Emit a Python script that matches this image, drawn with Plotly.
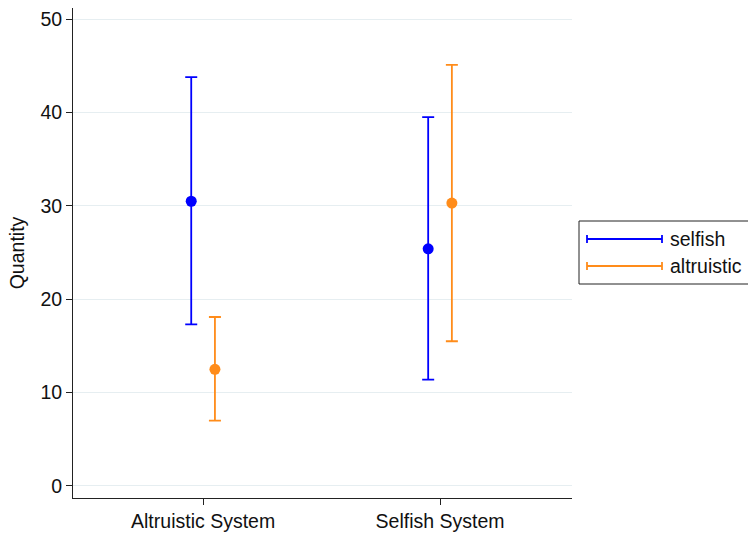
import plotly.graph_objects as go

# ---- data ----
categories = ["Altruistic System", "Selfish System"]
series_names = ["selfish", "altruistic"]
means = {
    "selfish": [30.5, 25.4],
    "altruistic": [12.5, 30.3],
}
upper = {
    "selfish": [43.8, 39.5],
    "altruistic": [18.1, 45.1],
}
lower = {
    "selfish": [17.3, 11.4],
    "altruistic": [7.0, 15.5],
}
y_ticks = [0, 10, 20, 30, 40, 50]

# ---- style ----
colors = {"selfish": "#0000FF", "altruistic": "#FF8C1A"}
offsets = {"selfish": -0.05, "altruistic": 0.05}
FONT = "Liberation Sans, Arial, sans-serif"
GRID = "#E6EEF1"
FS = 19.5

fig = go.Figure()
base_x = list(range(1, len(categories) + 1))
for name in series_names:
    xs = [b + offsets[name] for b in base_x]
    m = means[name]
    up = [u - v for u, v in zip(upper[name], m)]
    dn = [v - l for v, l in zip(m, lower[name])]
    fig.add_trace(go.Scatter(
        x=xs, y=m, mode="markers", name=name, showlegend=False,
        marker=dict(color=colors[name], size=11),
        error_y=dict(type="data", symmetric=False, array=up, arrayminus=dn,
                     color=colors[name], thickness=1.8, width=6),
    ))

fig.update_layout(
    width=748, height=536,
    margin=dict(l=73, r=176, t=8, b=38),
    paper_bgcolor="white", plot_bgcolor="white",
    font=dict(family=FONT, size=FS, color="#111111"),
    xaxis=dict(
        range=[0.451, 2.557], tickvals=base_x, ticktext=categories,
        showgrid=False, zeroline=False, showline=True, linecolor="#222222", linewidth=1,
        ticks="outside", ticklen=6, tickcolor="#222222", tickfont=dict(size=FS),
        automargin=False,
    ),
    yaxis=dict(
        range=[-1.29, 51.2], tickvals=y_ticks,
        showgrid=True, gridcolor=GRID, gridwidth=1, zeroline=False,
        showline=True, linecolor="#222222", linewidth=1,
        ticks="outside", ticklen=6, tickcolor="#222222", tickfont=dict(size=FS),
        title=dict(text="Quantity", font=dict(size=FS), standoff=10),
        automargin=False,
    ),
)

# ---- manual legend (error-bar style keys) ----
def px_x(p):
    return (p - 73) / 499.0

def px_y(p):
    return (498 - p) / 490.0

fig.add_shape(type="rect", xref="paper", yref="paper",
              x0=px_x(579), x1=px_x(760), y0=px_y(284), y1=px_y(221),
              line=dict(color="#222222", width=1), fillcolor="white", layer="above")
for i, name in enumerate(series_names):
    yy = px_y(239 + 27 * i)
    cap = 4 / 490.0
    c = colors[name]
    fig.add_shape(type="line", xref="paper", yref="paper",
                  x0=px_x(587), x1=px_x(662), y0=yy, y1=yy, line=dict(color=c, width=1.8))
    for xp in (587, 662):
        fig.add_shape(type="line", xref="paper", yref="paper",
                      x0=px_x(xp), x1=px_x(xp), y0=yy - cap, y1=yy + cap,
                      line=dict(color=c, width=1.8))
    fig.add_annotation(xref="paper", yref="paper", x=px_x(668), y=yy,
                       text=name, showarrow=False, xanchor="left", yanchor="middle",
                       font=dict(size=FS, family=FONT, color="#111111"))

fig.write_html("out.html")
